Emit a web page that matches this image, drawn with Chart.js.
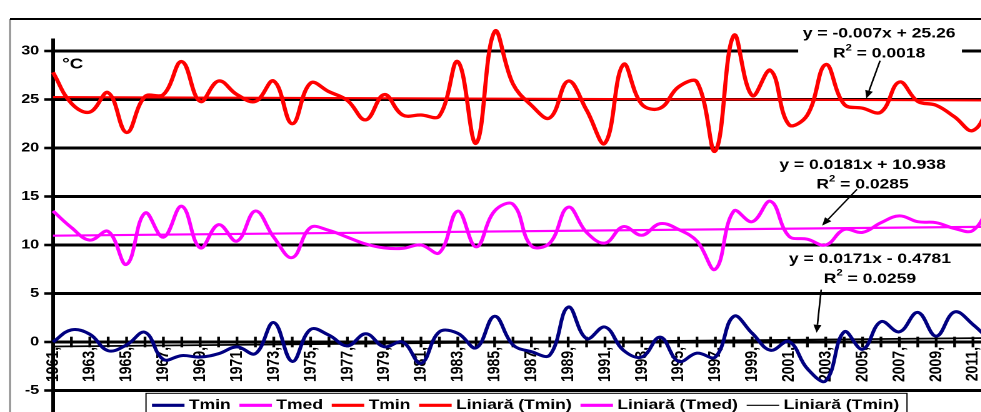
<!DOCTYPE html>
<html>
<head>
<meta charset="utf-8">
<script src="https://cdn.jsdelivr.net/npm/chart.js@4/dist/chart.umd.min.js"></script>
<style>
  html, body { margin:0; padding:0; background:#fff; overflow:hidden; }
  #wrap { position:absolute; left:0; top:0; width:981px; height:412px; overflow:hidden; background:#fff; }
  #c { position:absolute; left:0; top:0; transform:scaleX(1.25); transform-origin:0 0; }
</style>
</head>
<body>
<div id="wrap"><canvas id="c" width="796" height="430"></canvas></div>
<script>
// ---------- DATA ----------
const years = ['1961','1962','1963','1964','1965','1966','1967','1968','1969','1970',
  '1971','1972','1973','1974','1975','1976','1977','1978','1979','1980',
  '1981','1982','1983','1984','1985','1986','1987','1988','1989','1990',
  '1991','1992','1993','1994','1995','1996','1997','1998','1999','2000',
  '2001','2002','2003','2004','2005','2006','2007','2008','2009','2010',
  '2011','2012'];

// blue series (legend "Tmin")
const tminValues = [0.0, 1.25, 0.8, -0.9, -0.3, 1.0, -1.8, -1.4, -1.55, -1.2,
  -0.5, -1.2, 2.0, -2.0, 1.3, 0.7, -0.4, 0.85, -0.5, 0.0,
  -2.2, 1.05, 0.9, -0.6, 2.65, -0.3, -1.0, -1.35, 3.6, 0.35,
  1.55, -0.85, -1.55, 0.5, -2.0, -1.15, -1.55, 2.65, 0.9, -0.85,
  0.05, -2.75, -4.0, 1.05, -0.75, 2.1, 1.05, 3.05, 0.6, 3.1,
  1.8, 0.0];

// magenta series (legend "Tmed")
const tmedValues = [13.5, 11.8, 10.5, 11.4, 8.0, 13.3, 10.8, 14.0, 9.7, 12.1,
  10.4, 13.5, 10.8, 8.7, 11.8, 11.5, 10.8, 10.1, 9.7, 9.65,
  10.0, 9.2, 13.5, 9.8, 13.5, 14.2, 9.9, 10.2, 13.9, 11.3,
  10.2, 11.9, 11.0, 12.2, 11.6, 10.4, 7.5, 13.5, 12.4, 14.5,
  10.9, 10.6, 10.0, 11.6, 11.3, 12.3, 13.0, 12.4, 12.3, 11.7,
  11.5, 14.5];

// red series (legend "Tmin", the upper curve)
const tmaxValues = [27.8, 24.6, 23.7, 25.7, 21.6, 25.3, 25.5, 28.9, 24.8, 26.9,
  25.5, 24.8, 26.9, 22.5, 26.7, 25.8, 24.9, 22.9, 25.5, 23.4,
  23.4, 23.3, 28.9, 20.5, 32.0, 26.6, 24.4, 23.1, 26.9, 23.9,
  20.5, 28.6, 24.5, 24.1, 26.3, 26.8, 19.7, 31.6, 25.4, 28.0,
  22.4, 23.4, 28.6, 24.5, 24.1, 23.7, 26.8, 24.8, 24.4, 23.2,
  21.8, 24.8];

// linear trend lines: value at first and last year
const tmaxTrendEnds = [25.25, 24.90];
const tmedTrendEnds = [10.96, 11.88];
const tminTrendEnds = [-0.46, 0.41];

const yTickValues = [-5, 0, 5, 10, 15, 20, 25, 30];
const seriesLabels = ['Tmin', 'Tmed', 'Tmin', 'Liniară (Tmin)', 'Liniară (Tmed)', 'Liniară (Tmin)'];
const equationTexts = ['y = -0.007x + 25.26', 'y = 0.0181x + 10.938', 'y = 0.0171x - 0.4781'];
const r2Texts = ['0.0018', '0.0285', '0.0259'];
const unitText = '°C';

// ---------- CHART ----------
function endsToSeries(ends) {
  return years.map((_, i) => i === 0 ? ends[0] : (i === years.length - 1 ? ends[1] : null));
}

const FONT = '"Liberation Sans", Arial, sans-serif';
Chart.defaults.font.family = FONT;
Chart.defaults.font.weight = 'bold';
Chart.defaults.color = '#000';

// annotation layout (positions in scale units: category index / y value)
const annot = [
  { cx: 44.9, eqY: 31.8, r2Y: 29.7, box: [40.5, 49.4, 32.6, 28.9], arrow: [44.95, 29.0, 44.2, 25.1] },
  { cx: 44.0, eqY: 18.25, r2Y: 16.2, box: null, arrow: [43.7, 15.75, 41.8, 12.0] },
  { cx: 44.4, eqY: 8.55, r2Y: 6.5, box: null, arrow: [41.75, 5.4, 41.5, 0.95] }
];

function drawArrow(ctx, x1, y1, x2, y2) {
  ctx.save();
  ctx.strokeStyle = '#000'; ctx.fillStyle = '#000'; ctx.lineWidth = 1.3;
  const ang = Math.atan2(y2 - y1, x2 - x1);
  const hl = 8, hw = 3.2;
  const bx = x2 - hl * Math.cos(ang), by = y2 - hl * Math.sin(ang);
  ctx.beginPath(); ctx.moveTo(x1, y1); ctx.lineTo(bx, by); ctx.stroke();
  ctx.beginPath();
  ctx.moveTo(x2, y2);
  ctx.lineTo(bx + hw * Math.sin(ang), by - hw * Math.cos(ang));
  ctx.lineTo(bx - hw * Math.sin(ang), by + hw * Math.cos(ang));
  ctx.closePath(); ctx.fill();
  ctx.restore();
}

function drawR2(ctx, cx, cy, val) {
  const big = 'bold 14px ' + FONT, small = 'bold 9px ' + FONT;
  ctx.font = big; const wR = ctx.measureText('R').width;
  const rest = ' = ' + val; const wRest = ctx.measureText(rest).width;
  ctx.font = small; const w2 = ctx.measureText('2').width;
  const total = wR + w2 + wRest;
  let x = cx - total / 2;
  ctx.textAlign = 'left'; ctx.textBaseline = 'middle';
  ctx.font = big; ctx.fillText('R', x, cy); x += wR;
  ctx.font = small; ctx.fillText('2', x, cy - 6); x += w2;
  ctx.font = big; ctx.fillText(rest, x, cy);
}

const decor = {
  id: 'decor',
  beforeDatasetsDraw(chart) {
    const { ctx, scales: { x, y } } = chart;
    const y0 = y.getPixelForValue(0);
    ctx.save();
    ctx.strokeStyle = '#000'; ctx.lineWidth = 2.2;
    years.forEach((_, i) => {
      const px = x.getPixelForValue(i);
      ctx.beginPath(); ctx.moveTo(px, y0 - 5.3); ctx.lineTo(px, y0 + 5.3); ctx.stroke();
    });
    ctx.restore();
  },
  afterDraw(chart) {
    const { ctx, chartArea, scales: { x, y } } = chart;
    ctx.save();
    // outer chart border
    ctx.strokeStyle = '#8a8a8a'; ctx.lineWidth = 1.4;
    ctx.beginPath(); ctx.moveTo(8, 19); ctx.lineTo(8, chart.height); ctx.stroke();
    ctx.strokeStyle = '#000'; ctx.lineWidth = 2;
    ctx.beginPath(); ctx.moveTo(8, 19); ctx.lineTo(chart.width, 19); ctx.stroke();

    // unit label
    ctx.fillStyle = '#000';
    ctx.font = 'bold 15px ' + FONT; ctx.textAlign = 'left'; ctx.textBaseline = 'alphabetic';
    ctx.fillText(unitText, x.getPixelForValue(0.5), y.getPixelForValue(28.2));

    // equations + arrows
    annot.forEach((a, i) => {
      if (a.box) {
        const bx1 = x.getPixelForValue(a.box[0]), bx2 = x.getPixelForValue(a.box[1]);
        const by1 = y.getPixelForValue(a.box[2]), by2 = y.getPixelForValue(a.box[3]);
        ctx.fillStyle = '#fff'; ctx.fillRect(bx1, by1, bx2 - bx1, by2 - by1);
      }
      ctx.fillStyle = '#000';
      ctx.font = 'bold 14px ' + FONT; ctx.textAlign = 'center'; ctx.textBaseline = 'middle';
      const cx = x.getPixelForValue(a.cx);
      ctx.fillText(equationTexts[i], cx, y.getPixelForValue(a.eqY));
      drawR2(ctx, cx, y.getPixelForValue(a.r2Y), r2Texts[i]);
      drawArrow(ctx, x.getPixelForValue(a.arrow[0]), y.getPixelForValue(a.arrow[1]),
                     x.getPixelForValue(a.arrow[2]), y.getPixelForValue(a.arrow[3]));
    });

    // legend (overlaid at bottom of plot)
    const lx = chartArea.left + 74.4, ly = y.getPixelForValue(-5) + 2.8;
    const lw = 608.8, lh = 40;
    ctx.fillStyle = '#fff'; ctx.fillRect(lx, ly, lw, lh);
    ctx.strokeStyle = '#000'; ctx.lineWidth = 1; ctx.strokeRect(lx, ly, lw, lh);
    let cur = lx + 4.8; const cy = ly + 12;
    ctx.font = 'bold 14px ' + FONT; ctx.textAlign = 'left'; ctx.textBaseline = 'middle';
    chart.data.datasets.forEach((ds, i) => {
      ctx.strokeStyle = ds.borderColor;
      ctx.lineWidth = i === 5 ? 1.2 : 3.2;
      ctx.beginPath(); ctx.moveTo(cur, cy); ctx.lineTo(cur + 26, cy); ctx.stroke();
      ctx.fillStyle = '#000';
      ctx.fillText(ds.label, cur + 29.5, cy);
      cur += 29.5 + ctx.measureText(ds.label).width + 7;
    });
    ctx.restore();
  }
};

const lineBase = { pointRadius: 0, pointHoverRadius: 0, fill: false, clip: false };

new Chart(document.getElementById('c'), {
  type: 'line',
  data: {
    labels: years,
    datasets: [
      Object.assign({ label: seriesLabels[0], data: tminValues, borderColor: '#000080', borderWidth: 3, tension: 0.4 }, lineBase),
      Object.assign({ label: seriesLabels[1], data: tmedValues, borderColor: '#FF00FF', borderWidth: 3, tension: 0.4 }, lineBase),
      Object.assign({ label: seriesLabels[2], data: tmaxValues, borderColor: '#FF0000', borderWidth: 3.3, tension: 0.4 }, lineBase),
      Object.assign({ label: seriesLabels[3], data: endsToSeries(tmaxTrendEnds), borderColor: '#FF0000', borderWidth: 2.2, spanGaps: true, tension: 0 }, lineBase),
      Object.assign({ label: seriesLabels[4], data: endsToSeries(tmedTrendEnds), borderColor: '#FF00FF', borderWidth: 2.2, spanGaps: true, tension: 0 }, lineBase),
      Object.assign({ label: seriesLabels[5], data: endsToSeries(tminTrendEnds), borderColor: '#000000', borderWidth: 1.8, spanGaps: true, tension: 0 }, lineBase)
    ]
  },
  options: {
    responsive: false,
    animation: false,
    devicePixelRatio: 2,
    layout: { padding: { left: 0, right: 2.9, top: 40, bottom: 0 } },
    plugins: { legend: { display: false }, tooltip: { enabled: false }, title: { display: false } },
    events: [],
    scales: {
      x: {
        type: 'category',
        position: { y: 0 },
        offset: false,
        afterFit: s => { s.height = 0; s.paddingLeft = 0; s.paddingRight = 0; s.paddingTop = 0; s.paddingBottom = 0; },
        grid: { display: true, drawOnChartArea: false, drawTicks: false, color: 'rgba(0,0,0,0)' },
        border: { display: true, color: '#000', width: 3 },
        ticks: {
          autoSkip: false, maxRotation: 90, minRotation: 90, padding: 5, color: '#000',
          font: { size: 14, weight: 'bold', family: FONT },
          callback: (v, i) => (i % 2 === 0 ? years[i] + ',' : '')
        }
      },
      y: {
        min: -9.07, max: 31.13,
        afterBuildTicks: s => { s.ticks = yTickValues.map(v => ({ value: v })); },
        afterFit: s => { s.width = 42.4; s.paddingTop = 0; s.paddingBottom = 0; },
        grid: { color: '#000', lineWidth: 3, tickLength: 7, tickColor: '#000', tickWidth: 2.6 },
        border: { display: true, color: '#000', width: 3 },
        ticks: { padding: 4, color: '#000', font: { size: 13, weight: 'bold', family: FONT } }
      }
    }
  },
  plugins: [decor]
});
</script>
</body>
</html>
